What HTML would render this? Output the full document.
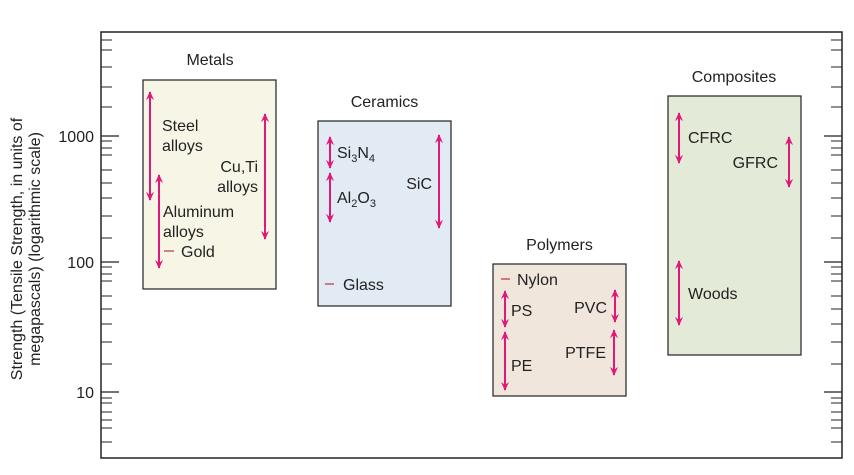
<!DOCTYPE html>
<html><head><meta charset="utf-8"><style>
html,body{margin:0;padding:0;background:#fff}
svg{display:block}
text{font-family:"Liberation Sans",sans-serif;font-size:16px;fill:#222}
</style></head><body>
<svg width="854" height="475" viewBox="0 0 854 475" xmlns="http://www.w3.org/2000/svg">
<defs>
<marker id="a" viewBox="0 0 10 10" refX="9" refY="5" markerWidth="11" markerHeight="9" markerUnits="userSpaceOnUse" orient="auto-start-reverse">
<path d="M0,0.5 L10,5 L0,9.5 L3.5,5 Z" fill="#e0187a"/>
</marker>
</defs>
<rect x="101" y="32" width="741" height="426" fill="none" stroke="#222" stroke-width="1.5"/>
<g stroke="#222" stroke-width="1.2">
<line x1="101" y1="136" x2="119" y2="136"/><line x1="101" y1="262" x2="119" y2="262"/><line x1="101" y1="392" x2="119" y2="392"/>
<line x1="824" y1="136" x2="842" y2="136"/><line x1="824" y1="262" x2="842" y2="262"/><line x1="824" y1="392" x2="842" y2="392"/>
</g>
<g stroke="#222" stroke-width="1.1">
<path d="M101 40h11M101 50h11M101 67h11M101 87h11M101 107h11
M101 141h11M101 148h11M101 155h11M101 170h11M101 183h11M101 198h11M101 216h11M101 238h11
M101 267h11M101 274h11M101 281h11M101 296h11M101 309h11M101 324h11M101 342h11M101 364h11
M101 398h11M101 403h11M101 412h11M101 420h11M101 428h11M101 442h11"/>
<path d="M831 40h11M831 50h11M831 67h11M831 87h11M831 107h11
M831 141h11M831 148h11M831 155h11M831 170h11M831 183h11M831 198h11M831 216h11M831 238h11
M831 267h11M831 274h11M831 281h11M831 296h11M831 309h11M831 324h11M831 342h11M831 364h11
M831 398h11M831 403h11M831 412h11M831 420h11M831 428h11M831 442h11"/>
</g>
<text x="94" y="142" text-anchor="end">1000</text>
<text x="94" y="268" text-anchor="end">100</text>
<text x="94" y="398" text-anchor="end">10</text>
<text transform="translate(22,249) rotate(-90)" text-anchor="middle" font-size="14.5">Strength (Tensile Strength, in units of</text>
<text transform="translate(40,249) rotate(-90)" text-anchor="middle" font-size="14.5">megapascals) (logarithmic scale)</text>

<rect x="143" y="80" width="133" height="209" fill="#f7f6e6" stroke="#222" stroke-width="1.2"/>
<text x="210" y="65" text-anchor="middle">Metals</text>
<rect x="318" y="121" width="133" height="185" fill="#e2ebf3" stroke="#222" stroke-width="1.2"/>
<text x="384.5" y="107" text-anchor="middle">Ceramics</text>
<rect x="493" y="264" width="133" height="132" fill="#f0e6dc" stroke="#222" stroke-width="1.2"/>
<text x="559.5" y="250" text-anchor="middle">Polymers</text>
<rect x="668" y="96" width="133" height="259" fill="#e3ead7" stroke="#222" stroke-width="1.2"/>
<text x="734" y="82" text-anchor="middle">Composites</text>

<g stroke="#e0187a" stroke-width="2" marker-start="url(#a)" marker-end="url(#a)">
<line x1="150" y1="92" x2="150" y2="200"/>
<line x1="159" y1="175" x2="159" y2="268"/>
<line x1="265" y1="114" x2="265" y2="239"/>
<line x1="330" y1="137" x2="330" y2="168"/>
<line x1="330" y1="173" x2="330" y2="222"/>
<line x1="439" y1="135" x2="439" y2="228"/>
<line x1="505" y1="291" x2="505" y2="327"/>
<line x1="505" y1="332" x2="505" y2="390"/>
<line x1="615" y1="290" x2="615" y2="322"/>
<line x1="614" y1="330" x2="614" y2="375"/>
<line x1="679" y1="113" x2="679" y2="163"/>
<line x1="789" y1="137" x2="789" y2="187"/>
<line x1="679" y1="261" x2="679" y2="325"/>
</g>
<g stroke="#c0404a" stroke-width="1.3">
<line x1="164" y1="251" x2="174" y2="251"/>
<line x1="325" y1="284" x2="334" y2="284"/>
<line x1="501" y1="279" x2="510" y2="279"/>
</g>
<text x="162" y="131">Steel</text><text x="162" y="151">alloys</text>
<text x="258" y="172" text-anchor="end">Cu,Ti</text><text x="258" y="192" text-anchor="end">alloys</text>
<text x="163" y="217">Aluminum</text><text x="163" y="237">alloys</text>
<text x="181" y="257">Gold</text>
<text x="337" y="158">Si<tspan font-size="11" dy="4">3</tspan><tspan dy="-4">N</tspan><tspan font-size="11" dy="4">4</tspan></text>
<text x="337" y="203">Al<tspan font-size="11" dy="4">2</tspan><tspan dy="-4">O</tspan><tspan font-size="11" dy="4">3</tspan></text>
<text x="432" y="189" text-anchor="end">SiC</text>
<text x="343" y="290">Glass</text>
<text x="517" y="285">Nylon</text>
<text x="511" y="316">PS</text>
<text x="511" y="371">PE</text>
<text x="607" y="313" text-anchor="end">PVC</text>
<text x="606" y="358" text-anchor="end">PTFE</text>
<text x="688" y="143">CFRC</text>
<text x="778" y="168" text-anchor="end">GFRC</text>
<text x="688" y="299">Woods</text>
</svg>
</body></html>
